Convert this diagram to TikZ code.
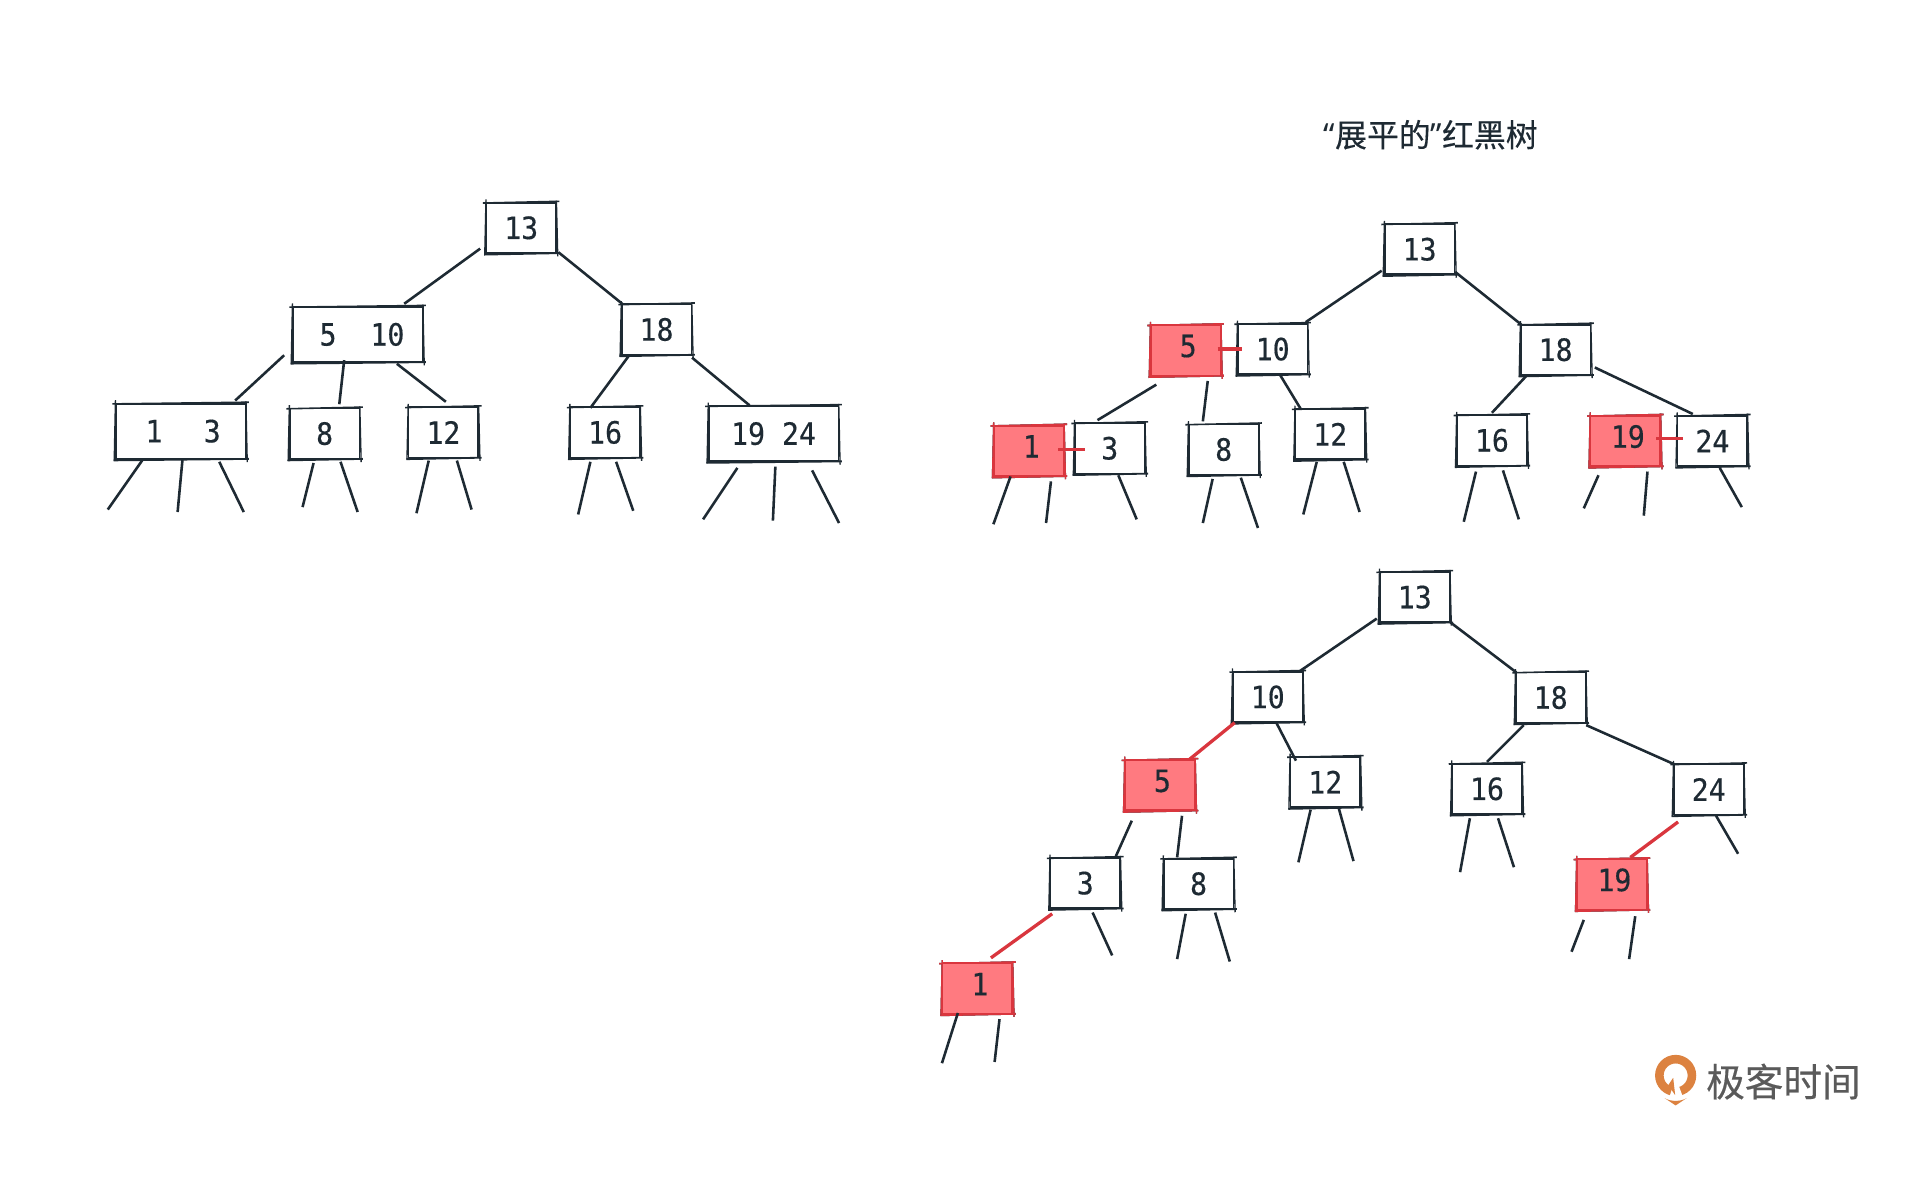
\documentclass[tikz,border=0pt]{standalone}
\usepackage{fontspec}
\setmonofont[FakeStretch=0.92,FakeBold=0.4]{DejaVu Sans Mono}
\newfontfamily\cjk[FakeBold=0.4]{Noto Sans CJK SC}
\newfontfamily\quotefont{Noto Sans}
\usepackage{xcolor}
\definecolor{inkcol}{HTML}{1E2A33}
\definecolor{redcol}{HTML}{FF7A80}
\definecolor{redline}{HTML}{D9363E}
\definecolor{logocol}{HTML}{DC8240}
\definecolor{logotext}{HTML}{5A5A5A}
\tikzset{
  rough/.style={append after command={\pgfextra{
    \draw[#1, line width=1.3pt] ([shift={(-2,1)}]\tikzlastnode.north west) -- ([shift={(2,-0.4)}]\tikzlastnode.north east) ;
    \draw[#1, line width=1.5pt] ([shift={(-1,0.6)}]\tikzlastnode.south west) -- ([shift={(2,-0.6)}]\tikzlastnode.south east) ;
    \draw[#1, line width=1.1pt] ([shift={(0.5,-2)}]\tikzlastnode.north west) -- ([shift={(-0.5,1)}]\tikzlastnode.south west) ;
    \draw[#1, line width=1.1pt] ([shift={(-0.5,-1)}]\tikzlastnode.north east) -- ([shift={(0.6,2)}]\tikzlastnode.south east) ;
  }}},
  keybox/.style={rectangle, draw=inkcol, line width=1.5pt, text=inkcol, minimum width=57, minimum height=41, inner sep=0pt, font=\ttfamily\fontsize{25}{25}\selectfont, rough=inkcol},
  link/.style={draw=inkcol, line width=2.1pt},
  redlink/.style={draw=redline, line width=2.7pt}
}
\newcommand{\keynode}[2]{node[keybox](#1) {#2}}
\newcommand{\widekey}[2]{node[keybox, minimum width=106, minimum height=45](#1) {#2}}
\newcommand{\redkey}[2]{node[keybox, draw=redline, fill=redcol, rough=redline](#1) {\hspace{4pt}\raisebox{-5.5pt}[0pt][0pt]{#2}}}
\newcommand{\joinkeys}[5][link]{\draw[#1] ([shift={(#3)}]#2.center) -- ([shift={(#5)}]#4.center) ;}
\newcommand{\twig}[4]{\coordinate (#1) at (#4) ; \draw[link] ([shift={(#3)}]#2.center) -- (#1) ;}

\begin{document}
\begin{tikzpicture}[x=1pt, y=-1pt]
\useasboundingbox (0,0) rectangle (1567.5,961.5);
% left tree
\draw (425.5,186) \keynode{a13}{13} ;
\draw (292,273) \widekey{a510}{\hspace{7pt}5~~10} ;
\draw (536,269) \keynode{a18}{18} ;
\draw (147.5,352) \widekey{a1}{\hspace{4pt}1~~\hspace{6pt}3} ;
\draw (265,354) \keynode{a8}{8} ;
\draw (362,353) \keynode{a12}{12} ;
\draw (494,353) \keynode{a16}{16} ;
\draw (631.5,354) \widekey{a19}{19~24} ;
\joinkeys{a13}{-33.5,17}{a510}{38,-25}
\joinkeys{a13}{30.5,20}{a18}{-28,-21}
\joinkeys{a510}{-60,17}{a1}{44.5,-25}
\joinkeys{a510}{-11,21}{a8}{12,-24}
\joinkeys{a510}{32,24}{a12}{2,-25}
\joinkeys{a18}{-23,22}{a16}{-12,-20}
\joinkeys{a18}{29,23}{a19}{-19.5,-23}
\twig{a1l}{a1}{-31.5,24}{88,416}
\twig{a1m}{a1}{1.5,23}{145,418}
\twig{a1r}{a1}{31.5,25}{199,418}
\twig{a8l}{a8}{-9,24}{247,414}
\twig{a8r}{a8}{13,23}{292,418}
\twig{a12l}{a12}{-12,23}{340,419}
\twig{a12r}{a12}{11,23}{385,416}
\twig{a16l}{a16}{-12,24}{472,420}
\twig{a16r}{a16}{9,24}{517,417}
\twig{a19l}{a19}{-29.5,28}{574,424}
\twig{a19m}{a19}{1.5,27}{631,425}
\twig{a19r}{a19}{31.5,30}{685,427}
% flattened tree
\draw (1168,110) node(title) {\cjk\fontsize{26}{26}\selectfont\textcolor{inkcol}{{\quotefont “}展平的{\quotefont ”}红黑树}} ;
\draw (1159,203.5) \keynode{b13}{13} ;
\draw (1039,285) \keynode{b10}{10} ;
\draw (968,286) \redkey{b5}{5} ;
\draw (1270,285.5) \keynode{b18}{18} ;
\draw (840,368) \redkey{b1}{1} ;
\draw (906,366) \keynode{b3}{3} ;
\draw (999,367) \keynode{b8}{8} ;
\draw (1086,354.5) \keynode{b12}{12} ;
\draw (1218,359.5) \keynode{b16}{16} ;
\draw (1327,360) \redkey{b19}{19} ;
\draw (1398,360) \keynode{b24}{24} ;
\joinkeys{b13}{-31,17.5}{b10}{27,-22}
\joinkeys{b13}{29,18.5}{b18}{-28,-20.5}
\joinkeys[redlink]{b5}{26,-1}{b10}{-25,0}
\joinkeys{b10}{6,21}{b12}{-24,-20.5}
\joinkeys{b18}{-24,21.5}{b16}{0,-22.5}
\joinkeys{b18}{32,14.5}{b24}{-16,-22}
\joinkeys{b5}{-24,28}{b3}{-10,-23}
\joinkeys{b5}{18,25}{b8}{-17,-23}
\joinkeys[redlink]{b1}{24,-1}{b3}{-20,1}
\joinkeys[redlink]{b19}{25,-2}{b24}{-24,-2}
\twig{b1l}{b1}{-15,21}{811,428}
\twig{b1r}{b1}{18,25}{854,427}
\twig{b3r}{b3}{7,22}{928,424}
\twig{b8l}{b8}{-9,24}{982,427}
\twig{b8r}{b8}{14,23}{1027,431}
\twig{b12l}{b12}{-11,22.5}{1064,420}
\twig{b12r}{b12}{11,22.5}{1110,418}
\twig{b16l}{b16}{-13,25.5}{1195,426}
\twig{b16r}{b16}{9,24.5}{1240,424}
\twig{b19l}{b19}{-22,28}{1293,415}
\twig{b19r}{b19}{18,25}{1342,421}
\twig{b24r}{b24}{6,22}{1422,414}
% binary tree
\draw (1155,487.5) \keynode{c13}{13} ;
\draw (1035,569) \keynode{c10}{10} ;
\draw (1266,569.5) \keynode{c18}{18} ;
\draw (947,641) \redkey{c5}{5} ;
\draw (1082,638.5) \keynode{c12}{12} ;
\draw (1214,644) \keynode{c16}{16} ;
\draw (1395,644.5) \keynode{c24}{24} ;
\draw (886,721) \keynode{c3}{3} ;
\draw (978.5,721.5) \keynode{c8}{8} ;
\draw (1316,722) \redkey{c19}{19} ;
\draw (798,807) \redkey{c1}{1} ;
\joinkeys{c13}{-31,17.5}{c10}{26,-21}
\joinkeys{c13}{29,20.5}{c18}{-28,-20.5}
\joinkeys[redlink]{c10}{-27,21}{c5}{24,-21}
\joinkeys{c10}{7,21}{c12}{-24,-17.5}
\joinkeys{c18}{-22,22.5}{c16}{0,-22}
\joinkeys{c18}{29,22.5}{c24}{-28,-20.5}
\joinkeys{c5}{-23,29}{c3}{25,-22}
\joinkeys{c5}{18,25}{c8}{-17.5,-21.5}
\joinkeys[redlink]{c24}{-25,26.5}{c19}{15,-22}
\joinkeys[redlink]{c3}{-27,25}{c1}{11,-25}
\twig{c12l}{c12}{-12,22.5}{1060,704}
\twig{c12r}{c12}{11,21.5}{1105,703}
\twig{c16l}{c16}{-14,24}{1192,712}
\twig{c16r}{c16}{9,24}{1236,708}
\twig{c24r}{c24}{6,21.5}{1419,697}
\twig{c3r}{c3}{6,24}{908,780}
\twig{c8l}{c8}{-10.5,24.5}{961,783}
\twig{c8r}{c8}{13.5,23.5}{1004,785}
\twig{c19l}{c19}{-23,29}{1283,777}
\twig{c19r}{c19}{19,26}{1330,783}
\twig{c1l}{c1}{-16,20}{769,868}
\twig{c1r}{c1}{18,25}{812,867}
% logo
\draw[logocol, line width=7pt] (1368,878) circle (13.3) ;
\fill[white] (1368,879.5) -- (1362,898.5) -- (1375,898.5) -- cycle ;
\fill[logocol] (1366,879.9) -- (1362,885.9) -- (1367.6,894.1) -- cycle ;
\fill[logocol] (1359,896.5) .. controls (1364,899.5) and (1372,899.5) .. (1377,896.5) -- (1368,902.5) -- cycle ;
\draw (1456,883) node[text=logotext](brand) {\cjk\fontsize{31.5}{31.5}\selectfont 极客时间} ;
\end{tikzpicture}
\end{document}
